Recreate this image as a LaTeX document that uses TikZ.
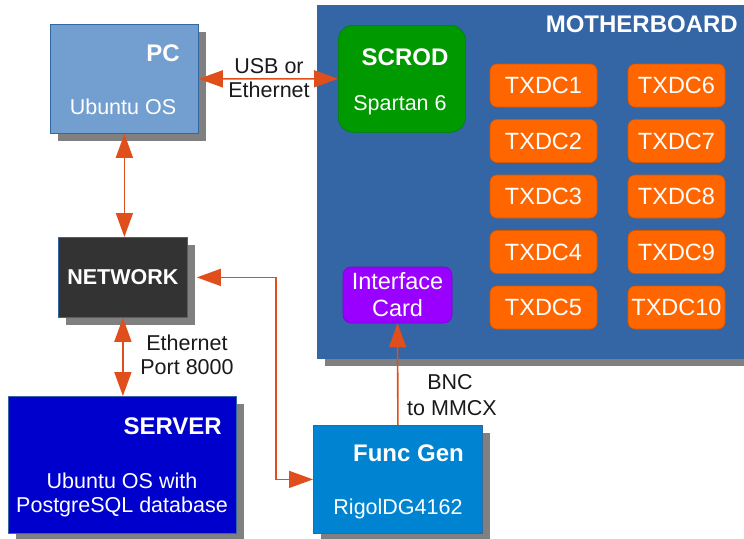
\documentclass[tikz,border=0pt]{standalone}
\usepackage{fontspec}
\setmainfont{Liberation Sans}
\usetikzlibrary{arrows.meta,shadows}

\definecolor{pcblue}{HTML}{729FCF}
\definecolor{edgeblue}{HTML}{3465A4}
\definecolor{mbblue}{HTML}{3465A4}
\definecolor{scrodgreen}{HTML}{009900}
\definecolor{txdcorange}{HTML}{FF6600}
\definecolor{cardpurple}{HTML}{9900FF}
\definecolor{netgray}{HTML}{333333}
\definecolor{serverblue}{HTML}{0000CC}
\definecolor{genblue}{HTML}{0084D1}
\definecolor{shadowgray}{HTML}{808080}
\definecolor{linkred}{HTML}{E04E1B}
\definecolor{labelink}{HTML}{1A1A1A}

\tikzset{
  fat/.tip={Triangle[length=24pt,width=17pt]},
  shadowed/.style={drop shadow={shadow xshift=8pt,shadow yshift=-8pt,fill=shadowgray,opacity=1}},
  unit/.style={shadowed, draw=edgeblue, line width=0.8pt, anchor=north west, inner sep=0pt},
  chip/.style={draw=#1!85!black, fill=#1, line width=0.6pt, inner sep=0pt, text=white},
  title/.style={font=\fontsize{24}{28}\selectfont\bfseries, text=white, inner sep=0pt},
  body/.style={font=\fontsize{21.5}{24}\selectfont, text=white, inner sep=0pt},
  label/.style={font=\fontsize{21.5}{24}\selectfont, text=labelink, inner sep=0pt},
  chiptext/.style={font=\fontsize{23.5}{27}\selectfont},
  link/.style={draw=linkred, line width=1.6pt},
  both/.style={link, arrows={fat-fat}},
  single/.style={link, arrows={-fat}},
}

\begin{document}
\begin{tikzpicture}[x=1pt,y=-1pt]
  \fill[white] (0,0) rectangle (744,538);
  \useasboundingbox (0,0) rectangle (744,538);

  % motherboard and the parts mounted on it
  \node[shadowed, fill=mbblue, draw=mbblue, anchor=north west, inner sep=0pt,
        minimum width=440pt, minimum height=353pt] (mb) at (317,5) {};
  \node[title, anchor=base east] (mbt) at (738,32) {MOTHERBOARD};

  \node[chip=scrodgreen, rounded corners=15pt, anchor=north west,
        minimum width=127pt, minimum height=107pt] (scrod) at (338,25) {};
  \node[title, anchor=base] (scrodt) at (405,65) {SCROD};
  \node[body, anchor=base] (scrods) at (400,110) {Spartan 6};

  \foreach \i/\r in {1/0,2/1,3/2,4/3,5/4}{
    \node[chip=txdcorange, rounded corners=7pt, chiptext,
          minimum width=107pt, minimum height=43pt] (txdc\i) at (543.5,85.5+55.5*\r) {TXDC\i};
  }
  \foreach \i/\r in {6/0,7/1,8/2,9/3,10/4}{
    \node[chip=txdcorange, rounded corners=7pt, chiptext,
          minimum width=97pt, minimum height=43pt] (txdc\i) at (676.5,85.5+55.5*\r) {TXDC\i};
  }

  \node[chip=cardpurple, rounded corners=8pt, chiptext, align=center,
        minimum width=109pt, minimum height=56pt] (card) at (397.5,295) {Interface\\Card};

  % host side
  \node[unit, fill=pcblue, minimum width=148pt, minimum height=109pt] (pc) at (50,24) {};
  \node[title, anchor=base east] (pct) at (180,61) {PC};
  \node[body, anchor=base] (pcs) at (123,114) {Ubuntu OS};

  \node[unit, fill=netgray, minimum width=129pt, minimum height=80pt,
        font=\fontsize{21.5}{24}\selectfont\bfseries, text=white] (net) at (58,237) {NETWORK};

  \node[unit, fill=serverblue, minimum width=228pt, minimum height=137pt] (server) at (8,396) {};
  \node[title, anchor=base east] (servert) at (222,434) {SERVER};
  \node[body, anchor=base] (servers1) at (122,488) {Ubuntu OS with};
  \node[body, anchor=base] (servers2) at (122,512) {PostgreSQL database};

  \node[unit, fill=genblue, minimum width=169pt, minimum height=108pt] (gen) at (313,425) {};
  \node[title, anchor=base east] (gent) at (464,461) {Func Gen};
  \node[body, anchor=base] (gens) at (398,514) {RigolDG4162};

  % links
  \coordinate (bend) at (276,0);
  \draw[both] (pc.east) -- (scrod.west);
  \draw[both] (pc.south) -- (pc.south |- net.north);
  \draw[both] (net.south) -- (net.south |- server.north);
  \draw[both] ([xshift=9pt]net.east) -| (bend |- gen.west) -- (gen.west);
  \draw[single] (gen.north) -- (card.south);

  % link labels
  \node[label, anchor=base] (usb1) at (269,73) {USB or};
  \node[label, anchor=base] (usb2) at (269,97) {Ethernet};
  \node[label, anchor=base] (eth1) at (187,350) {Ethernet};
  \node[label, anchor=base] (eth2) at (187,374) {Port 8000};
  \node[label, anchor=base] (bnc1) at (450,389) {BNC};
  \node[label, anchor=base] (bnc2) at (452,415) {to MMCX};
\end{tikzpicture}
\end{document}
